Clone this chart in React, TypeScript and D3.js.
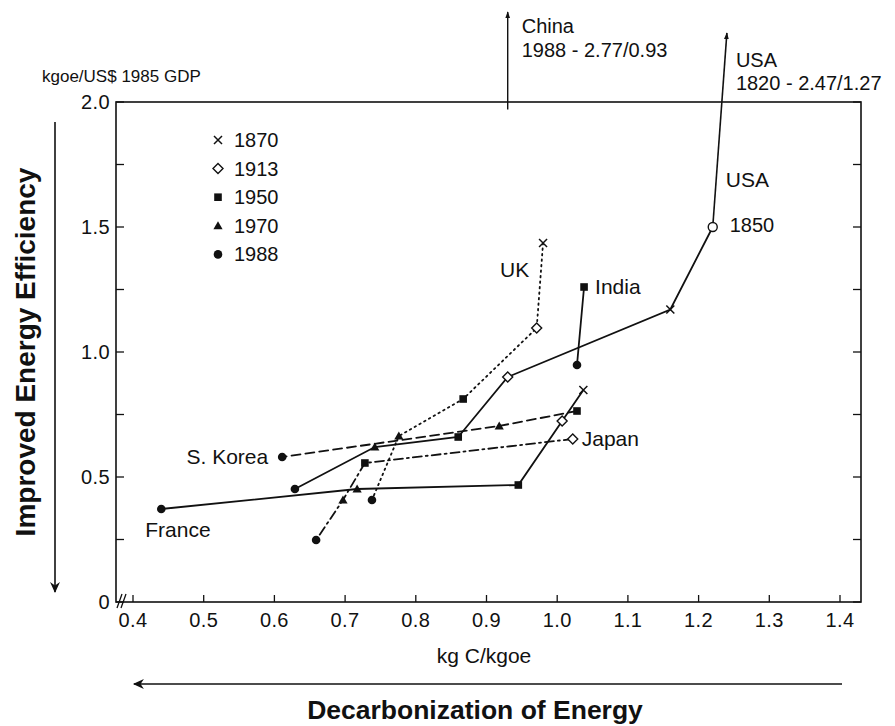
import React from "react";
import * as d3 from "d3";

type Pt = { year: string; x: number; y: number };

// legend years and axis ticks
const legendYears = ["1870", "1913", "1950", "1970", "1988"];
const xTicks = [0.4, 0.5, 0.6, 0.7, 0.8, 0.9, 1.0, 1.1, 1.2, 1.3, 1.4];
const yLabelled = [0, 0.5, 1.0, 1.5, 2.0];
const yMinor = [0.25, 0.75, 1.25, 1.75];

// country paths (x = kg C/kgoe, y = kgoe/US$ 1985 GDP)
const usa: Pt[] = [
  { year: "1850", x: 1.22, y: 1.5 },
  { year: "1870", x: 1.16, y: 1.17 },
  { year: "1913", x: 0.93, y: 0.9 },
  { year: "1950", x: 0.86, y: 0.66 },
  { year: "1970", x: 0.742, y: 0.62 },
  { year: "1988", x: 0.629, y: 0.452 },
];
const uk: Pt[] = [
  { year: "1870", x: 0.98, y: 1.436 },
  { year: "1913", x: 0.971, y: 1.096 },
  { year: "1950", x: 0.867, y: 0.812 },
  { year: "1970", x: 0.776, y: 0.664 },
  { year: "1988", x: 0.738, y: 0.408 },
];
const india: Pt[] = [
  { year: "1950", x: 1.038, y: 1.26 },
  { year: "1988", x: 1.028, y: 0.948 },
];
const japan: Pt[] = [
  { year: "1913", x: 1.022, y: 0.652 },
  { year: "1950", x: 0.728, y: 0.556 },
  { year: "1970", x: 0.697, y: 0.408 },
  { year: "1988", x: 0.659, y: 0.248 },
];
const france: Pt[] = [
  { year: "1870", x: 1.037, y: 0.848 },
  { year: "1913", x: 1.007, y: 0.724 },
  { year: "1950", x: 0.945, y: 0.468 },
  { year: "1970", x: 0.717, y: 0.452 },
  { year: "1988", x: 0.44, y: 0.372 },
];
const korea: Pt[] = [
  { year: "1950", x: 1.028, y: 0.764 },
  { year: "1970", x: 0.918, y: 0.704 },
  { year: "1988", x: 0.611, y: 0.58 },
];

// off-scale values shown as arrows
const china1988 = { label: "1988 - 2.77/0.93", x: 0.93, y: 2.77 };
const usa1820 = { label: "1820 - 2.47/1.27", x: 1.27, y: 2.47 };
const arrowTop = 2.276;
const usaArrowX = 1.24;

const W = 895;
const H = 726;
const frame = { left: 116, right: 861, top: 102, bottom: 602 };
const font = "'Liberation Sans', Arial, Helvetica, sans-serif";
const ink = "#111";

const x = d3.scaleLinear().domain([0.4, 1.4]).range([133, 840]);
const y = d3.scaleLinear().domain([0, 2]).range([602, 102]);

const line = d3
  .line<Pt>()
  .x((d) => x(d.x))
  .y((d) => y(d.y));

// draws the symbol for a given year
const Marker = ({ year, cx, cy }: { year: string; cx: number; cy: number }) => {
  if (year === "1870") {
    const r = 4;
    return (
      <path
        d={`M${cx - r},${cy - r}L${cx + r},${cy + r}M${cx - r},${cy + r}L${cx + r},${cy - r}`}
        stroke={ink}
        strokeWidth={1.5}
      />
    );
  }
  if (year === "1913") {
    const r = 5;
    return (
      <path
        d={`M${cx},${cy - r}L${cx + r},${cy}L${cx},${cy + r}L${cx - r},${cy}Z`}
        fill="#fff"
        stroke={ink}
        strokeWidth={1.4}
      />
    );
  }
  if (year === "1850") {
    return <circle cx={cx} cy={cy} r={4.5} fill="#fff" stroke={ink} strokeWidth={1.4} />;
  }
  if (year === "1950") {
    const r = 3.8;
    return <rect x={cx - r} y={cy - r} width={2 * r} height={2 * r} fill={ink} />;
  }
  if (year === "1970") {
    const r = 4.6;
    return (
      <path d={`M${cx},${cy - r}L${cx + r},${cy + r * 0.75}L${cx - r},${cy + r * 0.75}Z`} fill={ink} />
    );
  }
  return <circle cx={cx} cy={cy} r={4.3} fill={ink} />;
};

const series = [
  { name: "USA", pts: usa, dash: "none" },
  { name: "UK", pts: uk, dash: "1.5 4" },
  { name: "India", pts: india, dash: "none" },
  { name: "Japan", pts: japan, dash: "9 4 2 4" },
  { name: "France", pts: france, dash: "none" },
  { name: "S. Korea", pts: korea, dash: "9 5" },
];

export default function App() {
  const last = (p: Pt[]) => p[p.length - 1];
  const first = (p: Pt[]) => p[0];
  const txt = { fontFamily: font, fill: ink };

  return (
    <svg
      width={W}
      height={H}
      style={{ position: "absolute", left: 0, top: 0, background: "#fff" }}
    >
      <defs>
        <marker id="ah" viewBox="0 0 10 10" refX="9" refY="5" markerWidth="7" markerHeight="9" orient="auto" markerUnits="userSpaceOnUse">
          <path d="M0,1.5L10,5L0,8.5Z" fill={ink} />
        </marker>
        <marker id="ahBig" viewBox="0 0 10 10" refX="9" refY="5" markerWidth="17" markerHeight="11" orient="auto" markerUnits="userSpaceOnUse">
          <path d="M0,0.5L10,5L0,9.5L3,5Z" fill={ink} />
        </marker>
      </defs>

      {/* frame */}
      <rect
        x={frame.left}
        y={frame.top}
        width={frame.right - frame.left}
        height={frame.bottom - frame.top}
        fill="none"
        stroke={ink}
        strokeWidth={1.6}
      />

      {/* axis break */}
      <path
        d={`M${frame.left + 1},${frame.bottom + 6}L${frame.left + 6},${frame.bottom - 8}M${frame.left + 5},${frame.bottom + 6}L${frame.left + 10},${frame.bottom - 8}`}
        stroke={ink}
        strokeWidth={1.3}
      />

      {/* x ticks */}
      {xTicks.map((t) => (
        <g key={t}>
          <line x1={x(t)} x2={x(t)} y1={frame.bottom} y2={frame.bottom - 7} stroke={ink} strokeWidth={1.3} />
          <text x={x(t)} y={frame.bottom + 25} textAnchor="middle" fontSize={20} letterSpacing={0.4} {...txt}>
            {t.toFixed(1)}
          </text>
        </g>
      ))}

      {/* y ticks */}
      {[...yLabelled, ...yMinor].map((t) => (
        <g key={t}>
          <line x1={frame.left} x2={frame.left + 8} y1={y(t)} y2={y(t)} stroke={ink} strokeWidth={1.3} />
          <line x1={frame.right} x2={frame.right - 8} y1={y(t)} y2={y(t)} stroke={ink} strokeWidth={1.3} />
        </g>
      ))}
      {yLabelled.map((t) => (
        <text key={t} x={frame.left - 6} y={y(t) + 7} textAnchor="end" fontSize={20} letterSpacing={0.4} {...txt}>
          {t === 0 ? "0" : t.toFixed(1)}
        </text>
      ))}

      <text x={42} y={82} fontSize={17} {...txt}>kgoe/US$ 1985 GDP</text>
      <text x={484} y={663} textAnchor="middle" fontSize={21} {...txt}>kg C/kgoe</text>

      {/* direction arrows and titles */}
      <line x1={55} y1={122} x2={55} y2={592} stroke={ink} strokeWidth={1.6} markerEnd="url(#ahBig)" />
      <text
        transform={`translate(35,${352}) rotate(-90)`}
        textAnchor="middle"
        fontSize={28}
        fontWeight="bold"
        {...txt}
      >
        Improved Energy Efficiency
      </text>
      <line x1={842} y1={684} x2={134} y2={684} stroke={ink} strokeWidth={1.6} markerEnd="url(#ahBig)" />
      <text x={475} y={719} textAnchor="middle" fontSize={26.5} fontWeight="bold" {...txt}>
        Decarbonization of Energy
      </text>

      {/* country lines */}
      {series.map((s) => (
        <path
          key={s.name}
          d={line(s.pts) || ""}
          fill="none"
          stroke={ink}
          strokeWidth={1.8}
          strokeDasharray={s.dash}
          strokeLinecap="round"
        />
      ))}

      {/* off-scale arrows */}
      <line
        x1={x(usa[0].x)}
        y1={y(usa[0].y)}
        x2={x(usaArrowX)}
        y2={y(arrowTop)}
        stroke={ink}
        strokeWidth={1.6}
        markerEnd="url(#ah)"
      />
      <line
        x1={x(china1988.x)}
        y1={y(1.97)}
        x2={x(china1988.x)}
        y2={y(2.36)}
        stroke={ink}
        strokeWidth={1.4}
        markerEnd="url(#ah)"
      />
      <text x={x(china1988.x) + 14} y={33} fontSize={20} {...txt}>China</text>
      <text x={x(china1988.x) + 14} y={57} fontSize={20} {...txt}>{china1988.label}</text>
      <text x={x(usaArrowX) + 9} y={67} fontSize={20} {...txt}>USA</text>
      <text x={x(usaArrowX) + 9} y={90} fontSize={20} {...txt}>{usa1820.label}</text>

      {/* markers */}
      {series.map((s) =>
        s.pts.map((p) => <Marker key={s.name + p.year} year={p.year} cx={x(p.x)} cy={y(p.y)} />)
      )}

      {/* country labels */}
      <text x={x(usa[0].x) + 13} y={y(usa[0].y) - 40} fontSize={21} {...txt}>USA</text>
      <text x={x(usa[0].x) + 17} y={y(usa[0].y) + 5} fontSize={20} {...txt}>1850</text>
      <text x={x(first(uk).x) - 43} y={y(first(uk).y) + 34} fontSize={21} {...txt}>UK</text>
      <text x={x(first(india).x) + 11} y={y(first(india).y) + 7} fontSize={21} {...txt}>India</text>
      <text x={x(first(japan).x) + 9} y={y(first(japan).y) + 7} fontSize={21} {...txt}>Japan</text>
      <text x={x(last(korea).x) - 14} y={y(last(korea).y) + 7} textAnchor="end" fontSize={21} {...txt}>
        S. Korea
      </text>
      <text x={x(last(france).x) - 16} y={y(last(france).y) + 28} fontSize={21} {...txt}>France</text>

      {/* legend */}
      {legendYears.map((yr, i) => (
        <g key={yr}>
          <Marker year={yr} cx={218} cy={140 + i * 28.6} />
          <text x={234} y={140 + i * 28.6 + 7} fontSize={20} {...txt}>{yr}</text>
        </g>
      ))}
    </svg>
  );
}
